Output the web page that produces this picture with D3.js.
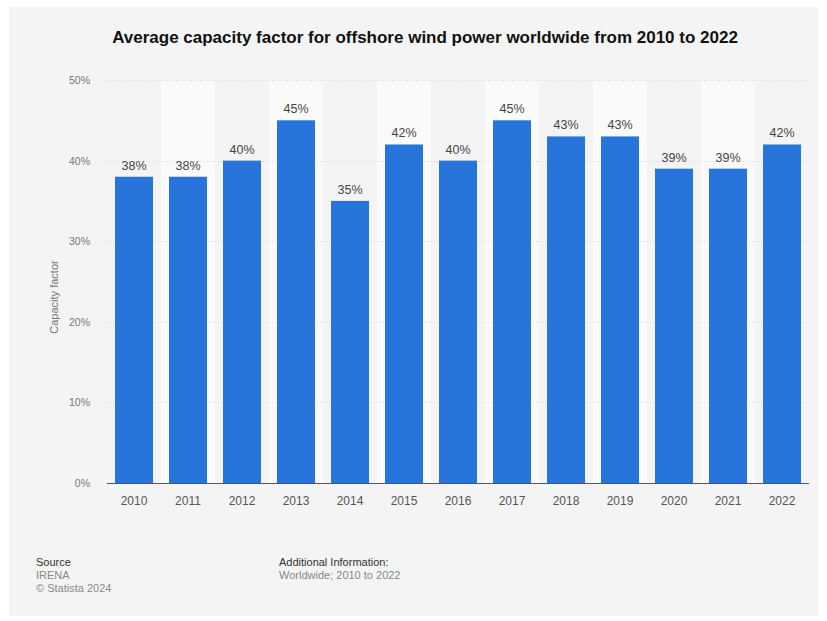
<!DOCTYPE html>
<html>
<head>
<meta charset="utf-8">
<script src="https://cdn.jsdelivr.net/npm/d3@7"></script>
<style>
  body { margin: 0; background: #fff; }
  svg { display: block; font-family: "Liberation Sans", Arial, Helvetica, sans-serif; }
</style>
</head>
<body>
<svg id="chart" width="827" height="621"></svg>
<script>
// 数据
const years = ["2010", "2011", "2012", "2013", "2014", "2015", "2016", "2017", "2018", "2019", "2020", "2021", "2022"];
const values = [38, 38, 40, 45, 35, 42, 40, 45, 43, 43, 39, 39, 42];
const yTicks = [0, 10, 20, 30, 40, 50];

const svg = d3.select("#chart");

// 背景卡片
svg.append("rect")
  .attr("x", 9).attr("y", 7)
  .attr("width", 809).attr("height", 609)
  .attr("fill", "#f4f4f4");

const plotLeft = 107, plotRight = 809, plotTop = 80, plotBottom = 483;

const x = d3.scaleBand()
  .domain(years)
  .range([plotLeft, plotRight])
  .paddingInner(0)
  .paddingOuter(0);

const y = d3.scaleLinear()
  .domain([0, 50])
  .range([plotBottom, plotTop]);

// 交替列背景
svg.append("g")
  .selectAll("rect")
  .data(years.filter((d, i) => i % 2 === 1))
  .join("rect")
  .attr("x", d => x(d))
  .attr("y", plotTop)
  .attr("width", x.bandwidth())
  .attr("height", plotBottom - plotTop)
  .attr("fill", "#fafafa");

// 网格线
svg.append("g")
  .selectAll("line")
  .data(yTicks.filter(d => d > 0))
  .join("line")
  .attr("x1", plotLeft).attr("x2", plotRight)
  .attr("y1", d => Math.round(y(d)) + 0.5)
  .attr("y2", d => Math.round(y(d)) + 0.5)
  .attr("stroke", "#d6d6d6")
  .attr("stroke-width", 1)
  .attr("stroke-dasharray", "1,2");

// y 轴刻度文字
svg.append("g")
  .selectAll("text")
  .data(yTicks)
  .join("text")
  .attr("x", 90)
  .attr("y", d => y(d) + 4)
  .attr("text-anchor", "end")
  .attr("font-size", "10.5px")
  .attr("fill", "#777")
  .text(d => d + "%");

// 柱子
const barW = 38;
svg.append("g")
  .selectAll("rect")
  .data(values)
  .join("rect")
  .attr("x", (d, i) => x(years[i]) + (x.bandwidth() - barW) / 2)
  .attr("y", d => y(d))
  .attr("width", barW)
  .attr("height", d => plotBottom - y(d))
  .attr("fill", "#2775db");

// 数值标签
svg.append("g")
  .selectAll("text")
  .data(values)
  .join("text")
  .attr("x", (d, i) => x(years[i]) + x.bandwidth() / 2)
  .attr("y", d => y(d) - 7)
  .attr("text-anchor", "middle")
  .attr("font-size", "12.5px")
  .attr("fill", "#444")
  .text(d => d + "%");

// 底部基线
svg.append("line")
  .attr("x1", plotLeft).attr("x2", plotRight)
  .attr("y1", plotBottom + 0.5).attr("y2", plotBottom + 0.5)
  .attr("stroke", "#555")
  .attr("stroke-width", 1);

// x 轴文字
svg.append("g")
  .selectAll("text")
  .data(years)
  .join("text")
  .attr("x", d => x(d) + x.bandwidth() / 2)
  .attr("y", 505)
  .attr("text-anchor", "middle")
  .attr("font-size", "12px")
  .attr("fill", "#555")
  .text(d => d);

// y 轴标题
svg.append("text")
  .attr("transform", "translate(58,297) rotate(-90)")
  .attr("text-anchor", "middle")
  .attr("font-size", "11px")
  .attr("fill", "#777")
  .text("Capacity factor");

// 标题
svg.append("text")
  .attr("x", 425)
  .attr("y", 43)
  .attr("text-anchor", "middle")
  .attr("font-size", "17px")
  .attr("font-weight", "bold")
  .attr("fill", "#111")
  .text("Average capacity factor for offshore wind power worldwide from 2010 to 2022");

// 页脚
const foot = svg.append("g").attr("font-size", "11px");
foot.append("text").attr("x", 36).attr("y", 566).attr("fill", "#333").text("Source");
foot.append("text").attr("x", 36).attr("y", 579).attr("fill", "#888").text("IRENA");
foot.append("text").attr("x", 36).attr("y", 592).attr("fill", "#888").text("© Statista 2024");
foot.append("text").attr("x", 279).attr("y", 566).attr("fill", "#333").text("Additional Information:");
foot.append("text").attr("x", 279).attr("y", 579).attr("fill", "#888").text("Worldwide; 2010 to 2022");
</script>
</body>
</html>
